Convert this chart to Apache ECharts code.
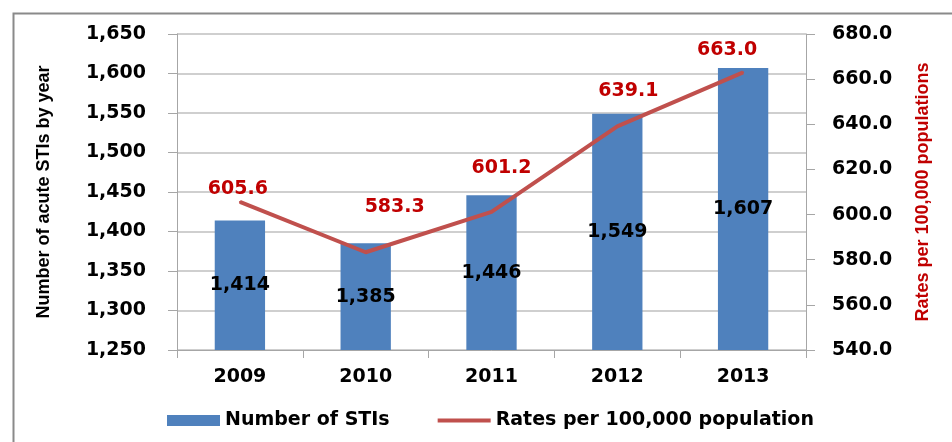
<!DOCTYPE html>
<html>
<head>
<meta charset="utf-8">
<script src="https://cdn.jsdelivr.net/npm/echarts@6/dist/echarts.min.js"></script>
<style>
html,body{margin:0;padding:0;background:#fff;}
#chart{width:952px;height:442px;}
</style>
</head>
<body>
<div id="chart"></div>
<script>
var years = ['2009', '2010', '2011', '2012', '2013'];
var stiCounts = [1414, 1385, 1446, 1549, 1607];
var rates = [605.6, 583.3, 601.2, 639.1, 663.0];
var barSeriesName = 'Number of STIs';
var lineSeriesName = 'Rates per 100,000 population';
var leftAxisName = 'Number of acute STIs by year';
var rightAxisName = 'Rates per 100,000 populations';

// label offsets (style, not data)
var rateLabelOffsets = [[-2, 0], [29, -33], [10, -31], [11, -23], [-16, -10]];

var FONT = 'DejaVu Sans';
var FS = 19;
var NARROW = '"Liberation Sans", Arial, sans-serif';

var chart = echarts.init(document.getElementById('chart'), null, {renderer: 'canvas'});

var option = {
  animation: false,
  backgroundColor: '#ffffff',
  graphic: [{
    type: 'rect', left: 11, top: 11, z: -1,
    shape: {x: 0, y: 0, width: 960, height: 460},
    style: {fill: 'none', stroke: '#8a8a8a', lineWidth: 2}
  }],
  grid: {left: 177, right: 146, top: 34, bottom: 92, containLabel: false},
  legend: {
    left: 162, top: 406,
    itemGap: 46, itemWidth: 53, itemHeight: 11,
    textStyle: {fontFamily: FONT, fontWeight: 'bold', fontSize: FS, color: '#000'},
    data: [
      {name: barSeriesName, icon: 'rect'},
      {name: lineSeriesName, itemStyle: {opacity: 0, color: 'rgba(0,0,0,0)', borderWidth: 0},
       lineStyle: {width: 4, color: '#c0504d'}}
    ]
  },
  xAxis: {
    type: 'category', data: years,
    axisLine: {lineStyle: {color: '#a6a6a6', width: 1}},
    axisTick: {show: true, length: 8, alignWithLabel: false, lineStyle: {color: '#a6a6a6'}},
    axisLabel: {margin: 18, fontFamily: FONT, fontWeight: 'bold', fontSize: FS, color: '#000'}
  },
  yAxis: [{
    type: 'value', min: 1250, max: 1650, interval: 50, position: 'left',
    name: leftAxisName, nameLocation: 'middle', nameRotate: 90, nameGap: 124,
    nameTextStyle: {fontFamily: NARROW, fontWeight: 'bold', fontSize: 18, color: '#000'},
    axisLine: {show: true, lineStyle: {color: '#a6a6a6'}},
    axisTick: {show: true, length: 9, lineStyle: {color: '#a6a6a6'}},
    splitLine: {show: true, lineStyle: {color: '#bfbfbf', width: 1.5}},
    axisLabel: {
      margin: 31, fontFamily: FONT, fontWeight: 'bold', fontSize: FS, color: '#000',
      formatter: function (v) { return v.toLocaleString('en-US'); }
    }
  }, {
    type: 'value', min: 540, max: 680, interval: 20, position: 'right',
    name: rightAxisName, nameLocation: 'middle', nameRotate: 90, nameGap: 108,
    nameTextStyle: {fontFamily: NARROW, fontWeight: 'bold', fontSize: 18, color: '#c00000'},
    axisLine: {show: true, lineStyle: {color: '#a6a6a6'}},
    axisTick: {show: true, length: 9, lineStyle: {color: '#a6a6a6'}},
    splitLine: {show: false},
    axisLabel: {
      margin: 26, fontFamily: FONT, fontWeight: 'bold', fontSize: FS, color: '#000',
      formatter: function (v) { return v.toFixed(1); }
    }
  }],
  series: [{
    name: barSeriesName, type: 'bar', yAxisIndex: 0,
    data: stiCounts, barWidth: '40%',
    itemStyle: {color: '#4f81bd'},
    label: {
      show: true, position: 'inside',
      fontFamily: FONT, fontWeight: 'bold', fontSize: FS, color: '#000',
      formatter: function (p) { return p.value.toLocaleString('en-US'); }
    }
  }, {
    name: lineSeriesName, type: 'line', yAxisIndex: 1,
    symbol: 'circle', symbolSize: 2, showSymbol: true,
    lineStyle: {color: '#c0504d', width: 4},
    itemStyle: {color: '#c0504d'},
    data: rates.map(function (v, i) {
      return {value: v, label: {offset: rateLabelOffsets[i]}};
    }),
    label: {
      show: true, position: 'top', distance: 2,
      fontFamily: FONT, fontWeight: 'bold', fontSize: FS, color: '#c00000',
      formatter: function (p) { return p.value.toFixed(1); }
    }
  }]
};
chart.setOption(option);
</script>
</body>
</html>
